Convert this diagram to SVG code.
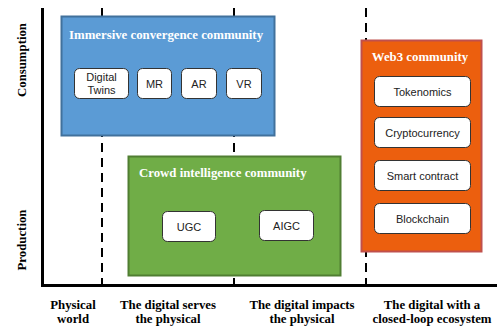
<svg xmlns="http://www.w3.org/2000/svg" width="497" height="326" viewBox="0 0 497 326">
<style>
.axis{stroke:#000;stroke-width:3;fill:none}
.dash{stroke:#000;stroke-width:2;stroke-dasharray:9 6;fill:none}
.item rect{fill:#fff;stroke:#333;stroke-width:1}
.item text{font-family:"Liberation Sans",Arial,sans-serif;font-size:11px;fill:#222;text-anchor:middle}
.title{font-family:"Liberation Serif","Times New Roman",serif;font-weight:bold;font-size:12.8px;fill:#fff}
.lab{font-family:"Liberation Serif","Times New Roman",serif;font-weight:bold;font-size:12.8px;fill:#000;text-anchor:middle}
</style>
<rect width="497" height="326" fill="#fff"/>
<g id="grid">
<path class="dash" d="M102 8V285M234 8V285M366 8V285"/>
</g>
<g id="immersive">
<rect x="61.5" y="16.5" width="213" height="119" fill="#5B9BD5" stroke="#41719C" stroke-width="2"/>
<text class="title" x="69" y="39">Immersive convergence community</text>
<g class="item" id="digital-twins"><rect x="74.5" y="68.5" width="54" height="30" rx="5"/><text x="101.5" y="81">Digital</text><text x="101.5" y="94">Twins</text></g>
<g class="item" id="mr"><rect x="137.5" y="68.5" width="34" height="30" rx="5"/><text x="154.5" y="87.5">MR</text></g>
<g class="item" id="ar"><rect x="181.5" y="68.5" width="35" height="30" rx="5"/><text x="199" y="87.5">AR</text></g>
<g class="item" id="vr"><rect x="226.5" y="68.5" width="35" height="30" rx="5"/><text x="244" y="87.5">VR</text></g>
</g>
<g id="crowd">
<rect x="128.5" y="156.5" width="212" height="119" fill="#70AD47" stroke="#507E32" stroke-width="2"/>
<text class="title" x="139" y="177">Crowd intelligence community</text>
<g class="item" id="ugc"><rect x="162.5" y="211.5" width="53" height="30" rx="5"/><text x="189" y="230.5">UGC</text></g>
<g class="item" id="aigc"><rect x="259.5" y="210.5" width="54" height="30" rx="5"/><text x="286.5" y="229.5">AIGC</text></g>
</g>
<g id="web3">
<rect x="361.5" y="40.5" width="120" height="211" fill="#EC5F0E" stroke="#C0504D" stroke-width="2"/>
<text class="title" x="420" y="61" text-anchor="middle">Web3 community</text>
<g class="item" id="tokenomics"><rect x="374.5" y="76.5" width="96" height="30" rx="5"/><text x="422.5" y="95.5">Tokenomics</text></g>
<g class="item" id="crypto"><rect x="374.5" y="117.5" width="96" height="30" rx="5"/><text x="422.5" y="136.5">Cryptocurrency</text></g>
<g class="item" id="smart"><rect x="374.5" y="160.5" width="96" height="30" rx="5"/><text x="422.5" y="179.5">Smart contract</text></g>
<g class="item" id="blockchain"><rect x="374.5" y="203.5" width="96" height="30" rx="5"/><text x="422.5" y="222.5">Blockchain</text></g>
</g>
<g id="axes">
<path class="axis" d="M42.5 8V285.5H497"/>
<text class="lab" transform="translate(26 60) rotate(-90)">Consumption</text>
<text class="lab" transform="translate(26 240) rotate(-90)">Production</text>
<text class="lab" x="73" y="309">Physical</text><text class="lab" x="73" y="323">world</text>
<text class="lab" x="168" y="309">The digital serves</text><text class="lab" x="168" y="323">the physical</text>
<text class="lab" x="302" y="309">The digital impacts</text><text class="lab" x="302" y="323">the physical</text>
<text class="lab" x="432" y="309">The digital with a</text><text class="lab" x="432" y="323">closed-loop ecosystem</text>
</g>
</svg>
